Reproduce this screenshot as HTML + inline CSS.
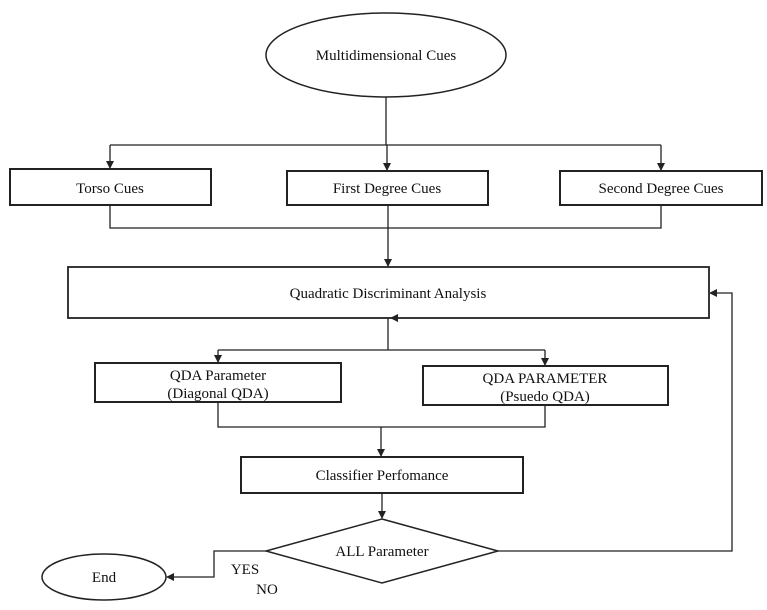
<!DOCTYPE html>
<html><head><style>
html,body{margin:0;padding:0;background:#fff;}
svg{display:block;}
text{font-family:"Liberation Serif",serif;font-size:15px;fill:#111;text-anchor:middle;}
</style></head><body>
<svg width="767" height="610" viewBox="0 0 767 610" xmlns="http://www.w3.org/2000/svg">
<defs><marker id="a" markerWidth="8" markerHeight="8" refX="7" refY="4" orient="auto" markerUnits="userSpaceOnUse"><path d="M0,0 L8,4 L0,8 z" fill="#222"/></marker></defs>
<g fill="none" stroke="#222" stroke-width="1.3">
<ellipse cx="386" cy="55" rx="120" ry="42" stroke-width="1.5"/>
<path d="M386,97 V145"/>
<path d="M110,145 H661"/>
<path d="M110,145 V168" marker-end="url(#a)"/>
<path d="M387,145 V170" marker-end="url(#a)"/>
<path d="M661,145 V170" marker-end="url(#a)"/>
<rect x="10" y="169" width="201" height="36" stroke-width="2"/>
<rect x="287" y="171" width="201" height="34" stroke-width="2"/>
<rect x="560" y="171" width="202" height="34" stroke-width="2"/>
<path d="M110,205 V228 H661 V205"/>
<path d="M388,205 V266" marker-end="url(#a)"/>
<rect x="68" y="267" width="641" height="51" stroke-width="1.8"/>
<path d="M388,318 V350"/>
<path d="M218,350 H545"/>
<path d="M218,350 V362" marker-end="url(#a)"/>
<path d="M545,350 V365" marker-end="url(#a)"/>
<rect x="95" y="363" width="246" height="39" stroke-width="2"/>
<rect x="423" y="366" width="245" height="39" stroke-width="2"/>
<path d="M218,402 V427 H545 V405"/>
<path d="M381,427 V456" marker-end="url(#a)"/>
<rect x="241" y="457" width="282" height="36" stroke-width="2"/>
<path d="M382,493 V518" marker-end="url(#a)"/>
<path d="M382,519 L498,551 L382,583 L266,551 Z" stroke-width="1.5"/>
<path d="M498,551 H732 V293 H710" marker-end="url(#a)"/>
<path d="M266,551 H214 V577 H167" marker-end="url(#a)"/>
<ellipse cx="104" cy="577" rx="62" ry="23" stroke-width="1.5"/>
</g>
<path d="M398,314 L390,318 L398,322 z" fill="#222"/>
<text x="386" y="60">Multidimensional Cues</text>
<text x="110" y="193">Torso Cues</text>
<text x="387" y="193">First Degree Cues</text>
<text x="661" y="193">Second Degree Cues</text>
<text x="388" y="298">Quadratic Discriminant Analysis</text>
<text x="218" y="380">QDA Parameter</text>
<text x="218" y="398">(Diagonal QDA)</text>
<text x="545" y="383">QDA PARAMETER</text>
<text x="545" y="401">(Psuedo QDA)</text>
<text x="382" y="480">Classifier Perfomance</text>
<text x="382" y="556">ALL Parameter</text>
<text x="104" y="582">End</text>
<text x="245" y="574">YES</text>
<text x="267" y="594">NO</text>
</svg>
</body></html>
